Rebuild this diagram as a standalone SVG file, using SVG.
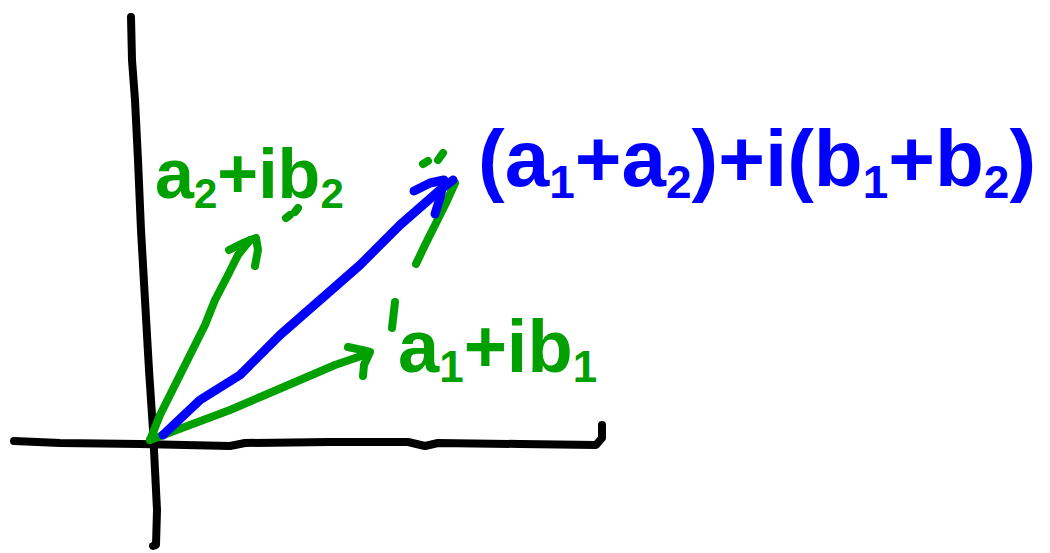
<svg xmlns="http://www.w3.org/2000/svg" width="1050" height="553" viewBox="0 0 1050 553">
<style>
.ax{fill:none;stroke:#000;stroke-width:8;stroke-linecap:round;stroke-linejoin:round}
.g{fill:none;stroke:#00A000;stroke-width:8;stroke-linecap:round;stroke-linejoin:round}
.b{fill:none;stroke:#0000FF;stroke-width:9;stroke-linecap:round;stroke-linejoin:round}
.tg{fill:#00A000;font-family:"Liberation Sans",Arial,sans-serif;font-weight:bold}
.tb{fill:#0000FF;font-family:"Liberation Sans",Arial,sans-serif;font-weight:bold}
</style>
<rect width="1050" height="553" fill="#fff"/>
<g id="axes">
<polyline class="ax" points="131,17 132,60 135,100 138,160 141,230 145,300 149,370 153,430 155,470 157,510 156,545 153,546"/>
<polyline class="ax" points="14,441 60,443 140,444 230,446 245,443 330,442 408,442 425,446 438,443 520,444 596,445 602,438 602,425"/>
</g>
<g id="connectors">
<polyline class="g" points="150,440 160,415 175,385 190,355 205,325 215,300 228,275 238,255 250,240"/>
<polyline class="g" points="229,250 243,243 256,238 258,250 255,266"/>
<polyline class="g" points="150,440 190,425 230,410 265,395 300,380 335,365 364,355"/>
<polyline class="g" points="348,347 362,350 370,352 364,365 363,376"/>
<line class="g" x1="286" y1="218" x2="290" y2="215"/>
<line class="g" x1="295" y1="212" x2="298" y2="208"/>
<polyline class="g" points="416,264 425,245 435,225 445,205 455,183"/>
<line class="g" x1="423" y1="164" x2="428" y2="161"/>
<line class="g" x1="438" y1="160" x2="443" y2="153"/>
<line class="g" x1="395" y1="302" x2="392" y2="328"/>
<polyline class="b" points="163,435 200,400 240,375 280,335 320,300 360,265 400,225 440,190 453,180"/>
<polyline class="b" points="414,191 430,183 444,180 440,198 435,214"/>
</g>
<g id="label-a2">
<text class="tg" x="155" y="198" font-size="70" letter-spacing="0">a<tspan font-size="42" dy="10">2</tspan><tspan dy="-10">+ib</tspan><tspan font-size="42" dy="10">2</tspan></text>
</g>
<g id="label-a1">
<text class="tg" x="398" y="372" font-size="74">a<tspan font-size="44" dy="10">1</tspan><tspan dy="-10">+ib</tspan><tspan font-size="44" dy="10">1</tspan></text>
</g>
<g id="label-sum">
<text class="tb" x="478" y="186" font-size="80">(a<tspan font-size="46" dy="12">1</tspan><tspan dy="-12">+a</tspan><tspan font-size="46" dy="12">2</tspan><tspan dy="-12">)+i(b</tspan><tspan font-size="46" dy="12">1</tspan><tspan dy="-12">+b</tspan><tspan font-size="46" dy="12">2</tspan><tspan dy="-12">)</tspan></text>
</g>
</svg>
